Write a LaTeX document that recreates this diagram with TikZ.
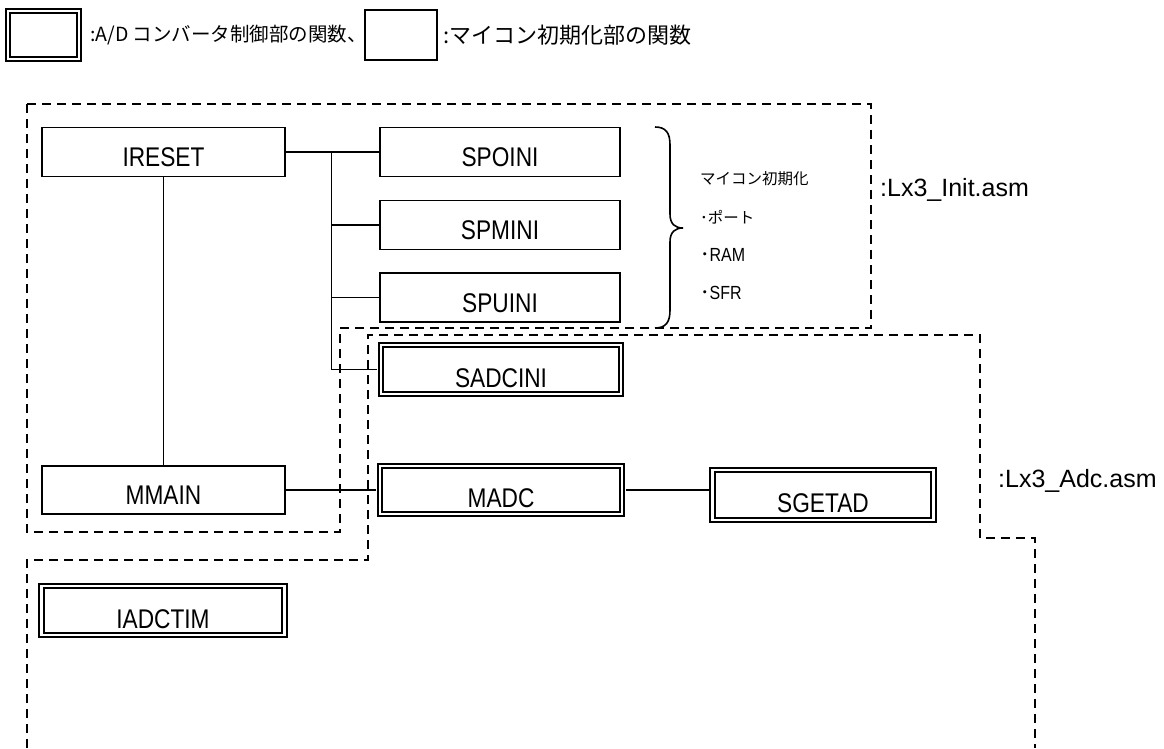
\documentclass[tikz,border=0pt]{standalone}
\usepackage{fontspec}
\setmainfont{Liberation Sans}
\newfontfamily\boxfont[FakeStretch=0.84]{Liberation Sans}
\newfontfamily\jpfont{Noto Sans CJK JP}
\begin{document}
\begin{tikzpicture}[x=1pt,y=-1pt,
  sbox/.style={draw, line width=1.6pt, inner sep=0pt, minimum height=49pt,
    text height=29pt, text depth=0pt, font=\boxfont\fontsize{27}{27}\selectfont},
  dbox/.style={draw, double, line width=2pt, double distance=2.5pt, inner sep=0pt,
    minimum height=49pt, text height=35pt, text depth=0pt,
    font=\boxfont\fontsize{27}{27}\selectfont},
  region/.style={line width=2.2pt, dash pattern=on 9pt off 6pt},
  conn/.style={line width=1.5pt},
  lbl/.style={anchor=west, inner sep=0pt, font=\fontsize{25}{25}\selectfont},
  jptxt/.style={anchor=west, inner sep=0pt, font=\jpfont\fontsize{15.5}{15.5}\selectfont},
  latxt/.style={anchor=west, inner sep=0pt, font=\boxfont\fontsize{19}{19}\selectfont},
  legtxt/.style={anchor=west, inner sep=0pt, font=\jpfont\fontsize{19.5}{19.5}\selectfont}]
\useasboundingbox (0,0) rectangle (1164,748);

% legend
\node[dbox, minimum width=71pt, minimum height=48pt] (legd) at (43.5,35) {};
\node[legtxt] (legdt) at (90,35) {:A/D コンバータ制御部の関数、};
\node[sbox, minimum width=72pt, minimum height=50pt] (legs) at (401,35) {};
\node[legtxt, font=\jpfont\fontsize{22}{22}\selectfont] (legst) at (443,35) {:マイコン初期化部の関数};

% regions
\draw[region] (27,104) -- (871,104) -- (871,328) -- (340,328) -- (340,532) -- (27,532) -- cycle;
\draw[region] (27,748) -- (27,560) -- (368,560) -- (368,335) -- (980,335) -- (980,538) -- (1035,538) -- (1035,748);

% function boxes
\node[sbox, minimum width=243pt] (ireset) at (163.5,152) {IRESET};
\node[sbox, minimum width=240pt] (spoini) at (500,152) {SPOINI};
\node[sbox, minimum width=240pt] (spmini) at (500,225) {SPMINI};
\node[sbox, minimum width=240pt] (spuini) at (500,297.5) {SPUINI};
\node[sbox, minimum width=243pt, minimum height=48pt] (mmain) at (163.5,490) {MMAIN};
\node[dbox, minimum width=240pt] (sadcini) at (501,369.5) {SADCINI};
\node[dbox, minimum width=242pt, minimum height=48pt] (madc) at (501,490) {MADC};
\node[dbox, minimum width=221pt, minimum height=50pt] (sgetad) at (823,495) {SGETAD};
\node[dbox, minimum width=243pt] (iadctim) at (163,610.5) {IADCTIM};

% connectors
\coordinate (bus) at (331.5,152);
\draw[conn] (ireset.east) -- (spoini.west);
\draw[conn] (bus) -- (bus |- sadcini.west) -- ([xshift=-3pt]sadcini.west);
\draw[conn] (bus |- spmini.west) -- (spmini.west);
\draw[conn] (bus |- spuini.west) -- (spuini.west);
\draw[conn] (ireset.south) -- (mmain.north);
\draw[conn] (mmain.east) -- ([xshift=-3pt]madc.west);
\draw[conn] ([xshift=3pt]madc.east) -- ([xshift=-3pt]madc.east -| sgetad.west);

% brace
\draw[line width=1.6pt] (655,127) .. controls (666,127) and (670,133) .. (670,145)
  -- (670,214) .. controls (670,224) and (675,228) .. (683,228)
  .. controls (675,228) and (670,232) .. (670,242)
  -- (670,310) .. controls (670,322) and (666,328) .. (655,328);

\node[jptxt] (t1) at (700,179) {マイコン初期化};
\node[jptxt] (t2) at (700,217) {･ポート};
\node[latxt] (t3) at (700,255) {{\jpfont ･}RAM};
\node[latxt] (t4) at (700,293) {{\jpfont ･}SFR};

% file labels
\node[lbl] (initlbl) at (880,190) {:Lx3\_Init.asm};
\node[lbl] (adclbl) at (998,481) {:Lx3\_Adc.asm};
\end{tikzpicture}
\end{document}
